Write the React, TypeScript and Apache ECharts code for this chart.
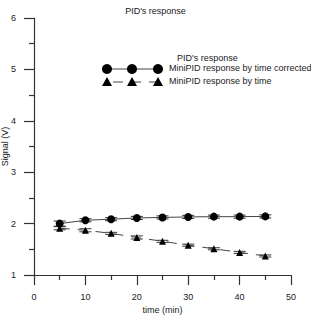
import React, { useEffect, useRef } from "react";
import * as echarts from "echarts";

const times = [5, 10, 15, 20, 25, 30, 35, 40, 45];
const corrected = [2.0, 2.065, 2.085, 2.11, 2.12, 2.13, 2.135, 2.135, 2.14];
const correctedErr = [0.05, 0.03, 0.03, 0.03, 0.03, 0.03, 0.03, 0.03, 0.03];
const byTime = [1.91, 1.87, 1.81, 1.73, 1.655, 1.58, 1.51, 1.44, 1.37];
const byTimeErr = [0.03, 0.03, 0.02, 0.03, 0.02, 0.02, 0.02, 0.02, 0.02];
const xTicks = [0, 10, 20, 30, 40, 50];
const yTicks = [1, 2, 3, 4, 5, 6];

const FONT = "Liberation Sans, Arial, sans-serif";
const INK = "#1a1a1a";
const AXIS = "#333";

function errorSeries(vals: number[], errs: number[]) {
  return {
    type: "custom",
    z: 1,
    silent: true,
    data: times.map((t, i) => [t, vals[i] - errs[i], vals[i] + errs[i]]),
    renderItem: (params: any, api: any) => {
      const lo = api.coord([api.value(0), api.value(1)]);
      const hi = api.coord([api.value(0), api.value(2)]);
      const w = 6;
      const st = { stroke: "#333", lineWidth: 1 };
      return {
        type: "group",
        children: [
          { type: "line", shape: { x1: lo[0], y1: lo[1], x2: hi[0], y2: hi[1] }, style: st },
          { type: "line", shape: { x1: lo[0] - w, y1: lo[1], x2: lo[0] + w, y2: lo[1] }, style: st },
          { type: "line", shape: { x1: hi[0] - w, y1: hi[1], x2: hi[0] + w, y2: hi[1] }, style: st },
        ],
      };
    },
  };
}

export default function App() {
  const ref = useRef<HTMLDivElement>(null);
  useEffect(() => {
    const chart = echarts.init(ref.current!, null, { renderer: "svg" });
    const legendY1 = 69;
    const legendY2 = 82;
    const lx = [107, 132, 158];
    chart.setOption({
      animation: false,
      textStyle: { fontFamily: FONT },
      title: {
        text: "PID's response",
        left: "center",
        top: 1,
        textStyle: { fontSize: 9, fontWeight: "normal", color: INK, fontFamily: FONT },
      },
      grid: { left: 34, right: 20, top: 18, bottom: 40, outerBoundsMode: "none", containLabel: false },
      xAxis: {
        type: "value",
        min: 0,
        max: 50,
        interval: 10,
        name: "time (min)",
        nameLocation: "middle",
        nameGap: 30,
        nameMoveOverlap: false,
        nameTextStyle: { fontSize: 9, color: INK, fontFamily: FONT },
        axisLine: { show: true, onZero: false, lineStyle: { color: AXIS, width: 1.2 } },
        axisTick: { show: true, inside: false, length: 10, lineStyle: { color: AXIS, width: 1.2 } },
        minorTick: { show: true, splitNumber: 2, length: 5, lineStyle: { color: AXIS, width: 1.2 } },
        axisLabel: { show: true, fontSize: 9, color: INK, margin: 17, fontFamily: FONT },
        splitLine: { show: false },
      },
      yAxis: {
        type: "value",
        min: 1,
        max: 6,
        interval: 1,
        name: "Signal (V)",
        nameLocation: "middle",
        nameGap: 25,
        nameMoveOverlap: false,
        nameTextStyle: { fontSize: 9, color: INK, fontFamily: FONT },
        axisLine: { show: true, onZero: false, lineStyle: { color: AXIS, width: 1.2 } },
        axisTick: { show: true, inside: false, length: 10, lineStyle: { color: AXIS, width: 1.2 } },
        minorTick: { show: true, splitNumber: 2, length: 5, lineStyle: { color: AXIS, width: 1.2 } },
        axisLabel: { show: true, fontSize: 9, color: INK, margin: 18, fontFamily: FONT },
        splitLine: { show: false },
      },
      series: [
        errorSeries(corrected, correctedErr),
        errorSeries(byTime, byTimeErr),
        {
          type: "line",
          name: "MiniPID response by time corrected",
          data: times.map((t, i) => [t, corrected[i]]),
          symbol: "circle",
          symbolSize: 8,
          lineStyle: { color: "#444", width: 1 },
          itemStyle: { color: "#000" },
          z: 3,
        },
        {
          type: "line",
          name: "MiniPID response by time",
          data: times.map((t, i) => [t, byTime[i]]),
          symbol: "triangle",
          symbolSize: 7,
          lineStyle: { color: "#444", width: 1, type: [10, 8] },
          itemStyle: { color: "#000" },
          z: 3,
        },
      ],
      graphic: [
        {
          type: "text",
          left: 177,
          top: 53,
          style: { text: "PID's response", fontSize: 9, fill: INK, fontFamily: FONT },
        },
        {
          type: "line",
          shape: { x1: lx[0], y1: legendY1, x2: lx[2], y2: legendY1 },
          style: { stroke: "#444", lineWidth: 1 },
        },
        ...lx.map((x) => ({
          type: "circle",
          shape: { cx: x, cy: legendY1, r: 5 },
          style: { fill: "#000" },
        })),
        {
          type: "line",
          shape: { x1: lx[0], y1: legendY2, x2: lx[2], y2: legendY2 },
          style: { stroke: "#444", lineWidth: 1, lineDash: [10, 8], lineDashOffset: -6 },
        },
        ...lx.map((x) => ({
          type: "polygon",
          shape: { points: [[x, legendY2 - 5], [x - 5, legendY2 + 4], [x + 5, legendY2 + 4]] },
          style: { fill: "#000" },
        })),
        {
          type: "text",
          left: 169,
          top: legendY1 - 6,
          style: { text: "MiniPID response by time corrected", fontSize: 9, fill: INK, fontFamily: FONT },
        },
        {
          type: "text",
          left: 169,
          top: legendY2 - 6,
          style: { text: "MiniPID response by time", fontSize: 9, fill: INK, fontFamily: FONT },
        },
      ],
    });
    return () => chart.dispose();
  }, []);
  return <div ref={ref} style={{ width: 311, height: 315, position: "absolute", left: 0, top: 0 }} />;
}
